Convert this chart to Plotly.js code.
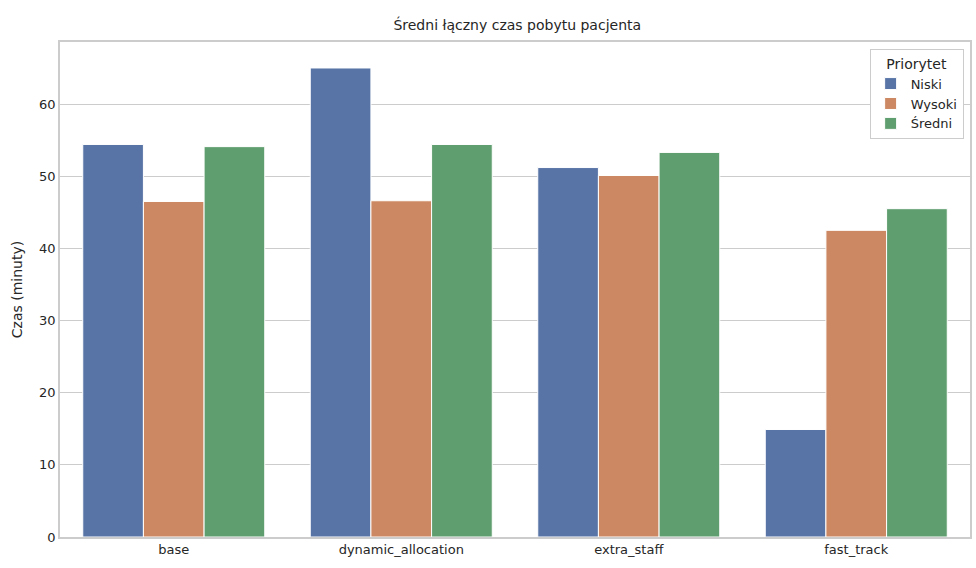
<!DOCTYPE html>
<html><head><meta charset="utf-8"><script src="https://cdn.plot.ly/plotly-3.0.1.min.js"></script>
<style>body{margin:0}</style></head><body><div id="c" style="width:976px;height:568px"></div>
<script>
const categories=["base","dynamic_allocation","extra_staff","fast_track"];
const niski=[54.4,65.0,51.2,14.9];
const wysoki=[46.5,46.6,50.1,42.5];
const sredni=[54.1,54.4,53.3,45.5];
const names=["Niski","Wysoki","Średni"];
const colors=["#5874a6","#cc8862","#5f9e6e"];
const data=[niski,wysoki,sredni].map((v,i)=>({type:"bar",x:categories,y:v,name:names[i],marker:{color:colors[i],line:{color:"#fff",width:1}}}));
Plotly.newPlot("c",data,{
 width:976,height:568,margin:{l:60,r:6,t:42,b:31},
 paper_bgcolor:"#fff",plot_bgcolor:"#fff",
 font:{family:"DejaVu Sans, Arial",size:13,color:"#262626"},
 title:{text:"Średni łączny czas pobytu pacjenta",x:0.53,y:0.965,font:{size:14}},
 barmode:"group",bargap:0.2,bargroupgap:0,
 xaxis:{showline:true,mirror:true,linecolor:"#cccccc",linewidth:1.5,ticks:"",tickfont:{size:13}},
 yaxis:{range:[0,68.6],dtick:10,gridcolor:"#cccccc",showline:true,mirror:true,linecolor:"#cccccc",linewidth:1.5,zeroline:false,
  title:{text:"Czas (minuty)",font:{size:14}},tickfont:{size:13}},
 legend:{x:0.993,y:0.985,xanchor:"right",yanchor:"top",bordercolor:"#cccccc",borderwidth:1,
  title:{text:"Priorytet",font:{size:14},side:"top center"},font:{size:13}}
},{displayModeBar:false});
</script></body></html>
